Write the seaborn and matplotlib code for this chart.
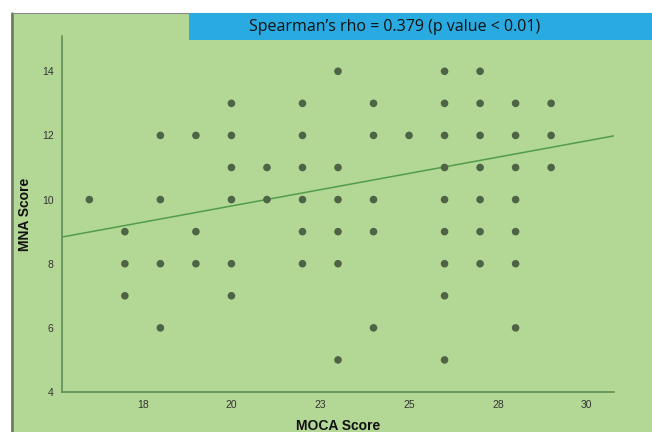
import numpy as np
import pandas as pd
import seaborn as sns
import matplotlib.pyplot as plt
from matplotlib.patches import Rectangle
from matplotlib.lines import Line2D

# MOCA score -> list of MNA scores observed at that MOCA value
moca_vals = [16, 17, 18, 19, 20, 21, 22, 23, 24, 25, 26, 27, 28, 29]
mna_lists = [
    [10],
    [9, 8, 7],
    [12, 10, 8, 6],
    [12, 9, 8],
    [13, 12, 11, 10, 8, 7],
    [11, 10],
    [13, 12, 11, 10, 9, 8],
    [14, 11, 10, 9, 8, 5],
    [13, 12, 10, 9, 6],
    [12],
    [14, 13, 12, 11, 10, 9, 8, 7, 5],
    [14, 13, 12, 11, 10, 9, 8],
    [13, 12, 11, 10, 9, 8, 6],
    [13, 12, 11],
]
# fit line as printed in the chart (overlapping points are hidden in the
# scatter, so the coefficients are read off the picture)
fit_intercept = 5.74
fit_slope = 0.203

x_ticks = [17.5, 20, 22.5, 25, 27.5, 30]
x_tick_labels = ['18', '20', '23', '25', '28', '30']
y_ticks = [4, 6, 8, 10, 12, 14]
title_text = "Spearman\u2019s rho = 0.379 (p value < 0.01)"

rows = []
for m, lst in zip(moca_vals, mna_lists):
    for v in lst:
        rows.append((m, v))
df = pd.DataFrame(rows, columns=['MOCA', 'MNA'])

bg = '#b3d896'
dot = '#4d6546'
line_c = '#529c4c'

sns.set_style('white')
plt.rcParams['font.family'] = ['Liberation Sans', 'DejaVu Sans']

fig = plt.figure(figsize=(6.52, 4.32), dpi=100)
fig.patch.set_facecolor('white')
W, H = 652, 432

# green panel (cropped screenshot look), behind the axes
fig.patches.append(Rectangle((11 / W, 0), 1 - 11 / W, (H - 12.7) / H,
                             transform=fig.transFigure, facecolor=bg,
                             edgecolor='none', zorder=-5))
fig.lines.append(Line2D([11.5 / W, 11.5 / W], [0, (H - 12.7) / H],
                        transform=fig.transFigure, color='#66785a', lw=1.8,
                        zorder=-4))
fig.lines.append(Line2D([11 / W, 1], [(H - 12.7) / H, (H - 12.7) / H],
                        transform=fig.transFigure, color='#8a8a8a', lw=0.8,
                        zorder=-4))

# blue title box
fig.patches.append(Rectangle((189 / W, (H - 40) / H), 1 - 189 / W, 27 / H,
                             transform=fig.transFigure, facecolor='#29abe2',
                             edgecolor='none', zorder=-3))
fig.text(395 / W, (H - 27) / H, title_text, ha='center', va='center',
         fontsize=11.5, color='#111111', family=['Open Sans', 'DejaVu Sans'])

ax = fig.add_axes([62 / W, 40 / H, (614 - 62) / W, (392 - 36) / H])
ax.set_facecolor('none')
ax.set_xlim(15.23, 30.77)
ax.set_ylim(4, 15.1)

sns.scatterplot(data=df, x='MOCA', y='MNA', ax=ax, color=dot, s=30,
                edgecolor='none', zorder=3)
ax.axline((0, fit_intercept), slope=fit_slope, color=line_c, lw=1.1, zorder=2)

ax.set_xticks(x_ticks)
ax.set_xticklabels(x_tick_labels)
ax.set_yticks(y_ticks)
ax.tick_params(length=0, labelsize=7.5, labelcolor='#333333', pad=6)
for s in ['top', 'right']:
    ax.spines[s].set_visible(False)
for s in ['left', 'bottom']:
    ax.spines[s].set_color('#5f8f55')
    ax.spines[s].set_linewidth(1.2)

ax.set_xlabel('MOCA Score', fontsize=10, fontweight='bold', color='#111111',
              labelpad=6)
ax.set_ylabel('MNA Score', fontsize=10, fontweight='bold', color='#111111',
              labelpad=7)

fig.savefig('out.png', dpi=100, facecolor=fig.get_facecolor())
